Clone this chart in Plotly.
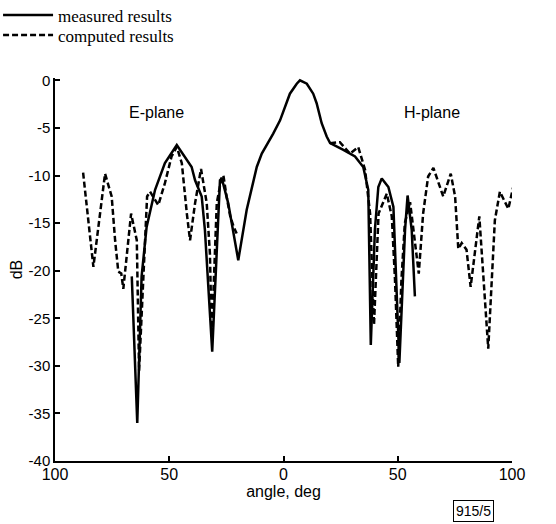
import plotly.graph_objects as go

# ---- data ----
measured_angle = [-66.4, -64.0, -62.1, -59.9, -56.2, -51.9, -46.7, -40.2, -38.7, -35.8,
                  -34.4, -31.2, -27.8, -27.0, -24.2, -19.8, -16.1, -11.7, -9.5, -6.7,
                  -4.5, -1.5, 0.7, 2.8, 5.8, 7.2, 10.2, 13.0, 14.5, 16.7,
                  18.9, 20.4, 26.2, 31.3, 34.9, 37.1, 38.2, 40.0, 41.5, 43.0,
                  45.9, 48.1, 50.7, 53.2, 54.3, 56.1, 57.5]
measured_db = [-20.6, -36.0, -20.6, -15.4, -11.5, -8.7, -6.8, -9.1, -10.5, -12.2,
               -15.7, -28.5, -10.5, -10.3, -12.9, -18.9, -13.6, -9.1, -7.7, -6.6,
               -5.6, -4.2, -2.8, -1.4, -0.35, 0.0, -0.35, -1.4, -2.4, -4.5,
               -5.9, -6.6, -7.3, -8.0, -9.1, -11.5, -27.8, -15.7, -11.2, -10.3,
               -11.2, -13.3, -29.7, -15.7, -12.1, -15.7, -22.7]

computed_angle = [-87.7, -83.2, -78.1, -75.2, -73.7, -72.3, -71.0, -70.1, -66.7, -64.2,
                  -63.2, -60.5, -59.7, -58.4, -54.8, -51.9, -49.0, -46.7, -44.5, -42.3,
                  -40.9, -38.7, -36.1, -33.6, -32.2, -31.4, -29.2, -27.0, -26.3, -24.9,
                  -23.3, -21.8, -20.5, None,
                  20.4, 24.7, 29.1, 32.7, 35.7, 37.9, 39.6, 41.6, 45.2, 47.4,
                  48.8, 50.2, 51.6, 53.1, 55.4, 57.6, 59.2, 61.1, 63.3, 65.6,
                  69.9, 73.2, 75.1, 76.5, 78.0, 80.1, 81.9, 85.7, 89.6, 92.5,
                  94.7, 98.4, 103.5]
computed_db = [-9.7, -19.6, -9.8, -12.2, -16.8, -20.1, -20.3, -21.9, -14.0, -16.8,
               -30.5, -15.7, -12.2, -11.7, -13.1, -10.8, -8.0, -7.0, -8.7, -14.0,
               -16.8, -12.9, -9.3, -12.9, -18.2, -27.0, -12.9, -10.1, -10.0, -12.2,
               -14.3, -15.4, -16.1, None,
               -6.6, -6.5, -7.7, -7.0, -9.4, -14.0, -25.7, -14.0, -11.9, -14.3,
               -21.0, -30.1, -21.0, -15.0, -12.8, -17.5, -20.3, -14.0, -10.1, -9.2,
               -12.2, -9.8, -12.2, -17.7, -17.1, -17.8, -21.7, -14.3, -28.2, -14.7,
               -11.7, -13.5, -8.0]

x_tick_vals = [-100, -50, 0, 50, 100]
x_tick_text = ["100", "50", "0", "50", "100"]
y_tick_vals = [0, -5, -10, -15, -20, -25, -30, -35, -40]
y_tick_text = ["0", "-5", "-10", "-15", "-20", "-25", "-30", "-35", "-40"]

fig = go.Figure()
fig.add_trace(go.Scatter(
    x=computed_angle, y=computed_db, mode="lines", name="computed results",
    line=dict(color="black", width=2.5, dash="6px,3px"), connectgaps=False,
    legend="legend2"))
fig.add_trace(go.Scatter(
    x=measured_angle, y=measured_db, mode="lines", name="measured results",
    line=dict(color="black", width=2.5), legend="legend"))

sans = "Liberation Sans, Arial, sans-serif"
serif = "Liberation Serif, Times New Roman, serif"

legend_common = dict(x=-0.1246, xanchor="left", yanchor="middle",
                     font=dict(family=serif, size=17),
                     bgcolor="rgba(0,0,0,0)", itemwidth=50)

fig.update_layout(
    width=556, height=524,
    margin=dict(l=55, r=44, t=78, b=63, autoexpand=False),
    paper_bgcolor="white", plot_bgcolor="white",
    font=dict(family=sans, size=15, color="black"),
    showlegend=True,
    legend=dict(y=1.1632, **legend_common),
    legend2=dict(y=1.111, **legend_common),
    xaxis=dict(range=[-100, 100], tickvals=x_tick_vals, ticktext=x_tick_text,
               showline=True, linecolor="black", linewidth=1.5,
               ticks="inside", ticklen=5, tickcolor="black", tickwidth=1.5,
               showgrid=False, zeroline=False, automargin=False,
               ticklabelstandoff=-2,
               tickfont=dict(family=sans, size=16),
               title=dict(text="angle, deg", font=dict(family=sans, size=16), standoff=0)),
    yaxis=dict(range=[-40, 0.25], tickvals=y_tick_vals, ticktext=y_tick_text,
               showline=True, linecolor="black", linewidth=1.5,
               ticks="inside", ticklen=5, tickcolor="black", tickwidth=1.5,
               showgrid=False, zeroline=False, automargin=False,
               tickfont=dict(family=sans, size=15),
               title=dict(text="dB", font=dict(family=sans, size=16), standoff=2)),
    annotations=[
        dict(x=-55.4, y=-3.36, xref="x", yref="y", text="E-plane", showarrow=False,
             font=dict(family=sans, size=16)),
        dict(x=65, y=-3.36, xref="x", yref="y", text="H-plane", showarrow=False,
             font=dict(family=sans, size=16)),
        dict(x=0.915, y=-0.1305, xref="paper", yref="paper", text="915/5", showarrow=False,
             xanchor="center", yanchor="middle",
             font=dict(family=sans, size=14), bordercolor="black", borderwidth=1, borderpad=2),
    ],
)

fig.write_html("out.html", config={"displayModeBar": False},
               post_script="document.body.style.margin='0';document.body.style.padding='0';")
